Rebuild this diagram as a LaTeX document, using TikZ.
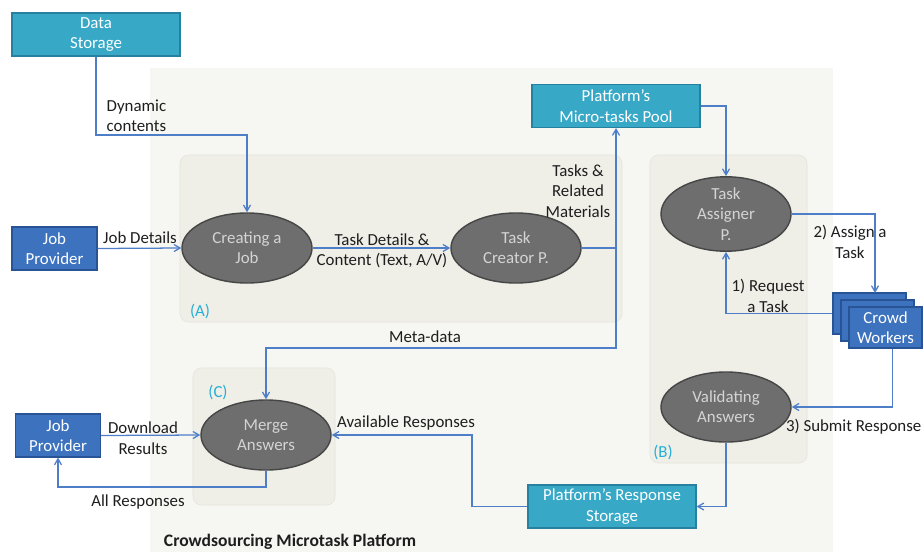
\documentclass[tikz,border=0pt]{standalone}
\usepackage{fontspec}
\setmainfont{Carlito}
\usepackage{xcolor}
\usepackage{tikz}
\usetikzlibrary{shapes.geometric, arrows}
\definecolor{tealbox}{RGB}{55,168,198}
\definecolor{tealedge}{RGB}{38,128,158}
\definecolor{bluebox}{RGB}{60,114,190}
\definecolor{blueedge}{RGB}{40,84,150}
\definecolor{greyfill}{RGB}{110,110,110}
\definecolor{greyedge}{RGB}{70,70,70}
\definecolor{greytext}{RGB}{212,212,212}
\definecolor{linkblue}{RGB}{78,126,200}
\definecolor{platformbg}{RGB}{246,246,242}
\definecolor{panelfill}{RGB}{239,239,232}
\definecolor{paneledge}{RGB}{228,228,220}
\definecolor{tagcyan}{RGB}{40,174,214}
\definecolor{notetext}{RGB}{30,30,30}
\tikzstyle{storage} = [rectangle, minimum width=4.2cm, minimum height=1.075cm, inner sep=1pt, align=center, draw=tealedge, fill=tealbox, text=white, line width=0.8pt]
\tikzstyle{provider} = [rectangle, minimum width=2.125cm, minimum height=1.075cm, inner sep=1pt, align=center, draw=blueedge, fill=bluebox, text=white, line width=0.8pt]
\tikzstyle{worker} = [provider, minimum width=1.825cm, minimum height=1.025cm]
\tikzstyle{process} = [ellipse, minimum width=3.25cm, minimum height=1.75cm, inner sep=0pt, align=center, draw=greyedge, fill=greyfill, text=greytext, line width=1pt]
\tikzstyle{arrow} = [line width=0.9pt, ->, >=angle 60, draw=linkblue]
\tikzstyle{note} = [align=center, text=notetext, inner sep=1pt]
\tikzstyle{paneltag} = [text=tagcyan]
\tikzstyle{panel} = [fill=panelfill, draw=paneledge, rounded corners=6pt]

\begin{document}
\begin{tikzpicture}[x=0.025cm, y=-0.025cm, font=\fontsize{12}{14.5}\selectfont]
		\useasboundingbox (0,0) rectangle (924,552);
		
		% Platform and sub-panels
		\fill[platformbg] (150,68) rectangle (833,552);
		\draw[panel] (180,155) rectangle (622,322);
		\draw[panel] (650,155) rectangle (807,463);
		\draw[panel] (193,368) rectangle (335,505);
		\node (tagA) [paneltag] at (200,311) {(A)};
		\node (tagB) [paneltag] at (663,452) {(B)};
		\node (tagC) [paneltag] at (218,392) {(C)};
		
		% Boxes
		\node (datastore) [storage] at (96,34.5) {Data\\Storage};
		\node (pool) [storage] at (616,106) {Platform's\\Micro-tasks Pool};
		\node (respstore) [storage] at (612,506.5) {Platform's Response\\Storage};
		\node (jobprovA) [provider] at (54.5,248.5) {Job\\Provider};
		\node (jobprovB) [provider] at (58,435.5) {Job\\Provider};
		\node (crowdback) [worker] at (869.5,313.5) {};
		\node (crowdmid) [worker] at (877.5,320.5) {};
		\node (crowd) [worker] at (885.5,327.5) {Crowd\\Workers};
		
		% Processes
		\node (createjob) [process] at (247,248) {Creating a\\Job};
		\node (taskcreator) [process] at (516,248) {Task\\Creator P.};
		\node (assigner) [process] at (726,214) {Task\\Assigner\\P.};
		\node (validate) [process] at (726,407) {Validating\\Answers};
		\node (merge) [process] at (266,435) {Merge\\Answers};
		
		% Bend points
		\coordinate (dynbend) at (247,135);
		\coordinate (tcsplit) at (616,248);
		\coordinate (metabend) at (266,348);
		\coordinate (assignend) at (875,293);
		\coordinate (availbend) at (472,470);
		\coordinate (allbend) at (266,487);
		
		% Arrows for job creation
		\draw [arrow] (datastore.south) |- (dynbend) -- (createjob.north);
		\draw [arrow] (jobprovA.east) -- (createjob.west);
		\draw [arrow] (createjob.east) -- (taskcreator.west);
		\draw [arrow] (taskcreator.east) -| (pool.south);
		\draw [arrow] (tcsplit) |- (metabend) -- (merge.north);
		
		% Arrows for task assignment
		\draw [arrow] (pool.east) -| (assigner.north);
		\draw [arrow] (assigner.east) -| (assignend);
		\draw [arrow] (crowdback.west) -| (assigner.south);
		\draw [arrow] ([xshift=5pt]crowd.south) |- (validate.east);
		
		% Arrows for responses
		\draw [arrow] (validate.south) |- (respstore.east);
		\draw [arrow] (respstore.west) -| (availbend) |- (merge.east);
		\draw [arrow] (jobprovB.east) -- (merge.west);
		\draw [arrow] (merge.south) |- (allbend) -| (jobprovB.south);
		
		% Labels
		\node (dynlabel) [note, anchor=west, align=left] at (105,116) {Dynamic\\contents};
		\node (jdlabel) [note] at (140,238) {Job Details};
		\node (tdlabel) [note] at (382,251) {Task Details \&\\Content (Text, A/V)};
		\node (trlabel) [note] at (578,191) {Tasks \&\\Related\\Materials};
		\node (metalabel) [note] at (425,337) {Meta-data};
		\node (assignlabel) [note] at (850,242) {2) Assign a\\Task};
		\node (reqlabel) [note] at (768,296) {1) Request\\a Task};
		\node (submitlabel) [note, anchor=east] at (923,427) {3) Submit Response};
		\node (availlabel) [note] at (406,423) {Available Responses};
		\node (dllabel) [note] at (143,438) {Download\\Results};
		\node (alllabel) [note] at (138,502) {All Responses};
		\node (title) [note, font=\fontsize{12.5}{14.5}\selectfont\bfseries] at (290,542) {Crowdsourcing Microtask Platform};
		
	\end{tikzpicture}
\end{document}
